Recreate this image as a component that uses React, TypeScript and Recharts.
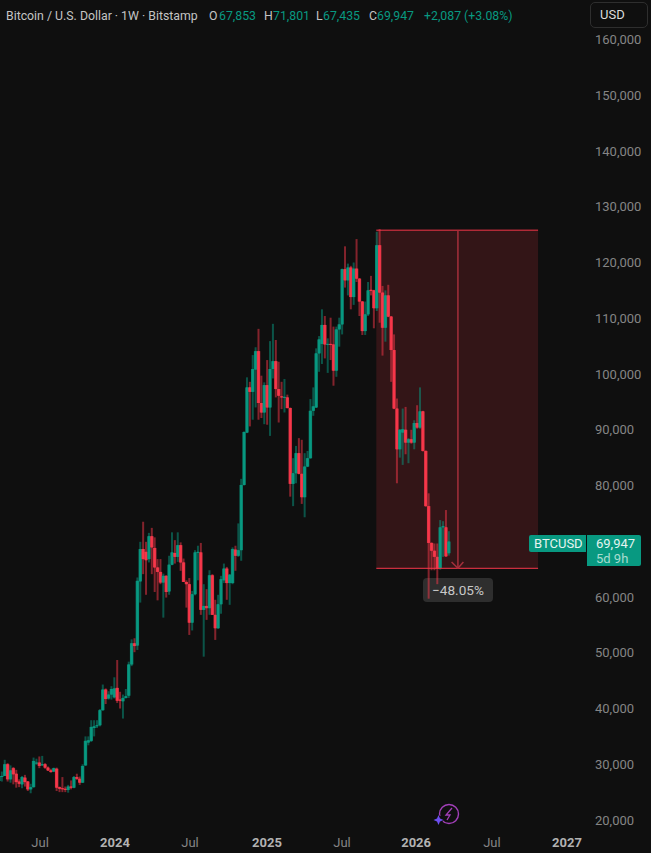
import {
  Bar,
  ComposedChart,
  ReferenceArea,
  ReferenceLine,
  XAxis,
  YAxis,
} from 'recharts';

const UP = '#089981';
const DOWN = '#f7374a';
const BG = '#0f0f0f';
const FONT = 'Roboto, "Liberation Sans", sans-serif';

// weekly candles, values in thousands of USD
const opens = [
  27.0, 27.8, 27.9, 30.0, 27.3, 29.3, 28.3, 26.9, 26.4, 27.6,
  26.9, 25.5, 25.9, 30.2, 30.3, 29.9, 30.0, 29.4, 28.9, 28.7,
  29.2, 25.9, 25.7, 25.6, 25.4, 26.0, 25.8, 27.7, 27.4, 26.7,
  29.8, 33.9, 34.2, 36.5, 36.9, 37.0, 39.7, 43.4, 41.8, 42.5,
  42.0, 43.7, 41.6, 41.3, 41.9, 42.3, 47.9, 51.7, 51.3, 62.8,
  68.6, 68.1, 66.8, 70.9, 68.8, 65.3, 64.5, 62.6, 63.8, 61.0,
  65.8, 67.9, 67.2, 69.3, 66.2, 62.7, 62.3, 55.4, 60.5, 68.0,
  68.0, 57.7, 58.4, 58.0, 63.9, 56.8, 54.4, 58.7, 63.0, 65.1,
  62.5, 62.5, 68.5, 67.4, 68.4, 80.1, 89.5, 97.6, 96.8, 100.8,
  104.1, 94.8, 93.1, 98.0, 94.0, 100.9, 102.3, 97.3, 96.0, 95.8,
  95.8, 93.9, 80.3, 82.2, 85.8, 82.1, 77.9, 83.4, 84.9, 93.4,
  94.0, 103.7, 105.4, 108.8, 105.3, 105.4, 105.3, 100.6, 108.0, 108.9,
  118.8, 116.8, 119.1, 113.8, 118.9, 117.1, 113.0, 107.7, 110.7, 115.1,
  115.0, 111.8, 123.1, 114.6, 108.3, 114.1, 110.3, 104.3, 93.8, 86.5,
  89.5, 90.0, 87.7, 88.3, 87.7, 91.2, 90.4, 93.3, 86.2, 76.3,
  69.7, 68.3, 67.2, 65.2, 72.5, 72.5, 67.853,
];
const highs = [
  28.7, 28.7, 30.8, 30.2, 29.8, 29.5, 29.0, 27.3, 27.9, 28.1,
  27.0, 26.5, 31.2, 31.0, 31.4, 31.5, 30.2, 29.6, 29.2, 29.4,
  29.4, 26.0, 27.7, 26.0, 26.3, 27.1, 27.9, 28.3, 27.8, 30.0,
  35.0, 35.0, 37.9, 37.9, 37.9, 39.9, 44.3, 43.6, 43.1, 44.0,
  45.6, 48.7, 43.0, 42.5, 43.5, 48.4, 52.4, 52.6, 63.5, 69.9,
  73.5, 69.9, 71.5, 72.4, 70.7, 66.8, 66.8, 64.2, 63.9, 67.4,
  71.6, 70.2, 71.6, 69.8, 66.9, 63.0, 63.4, 61.1, 68.4, 69.2,
  69.7, 62.3, 61.4, 64.8, 64.1, 59.5, 60.4, 63.8, 66.0, 65.4,
  64.1, 68.9, 69.2, 73.2, 81.2, 89.7, 99.4, 98.6, 103.4, 104.8,
  108.1, 99.7, 98.5, 102.5, 105.9, 109.0, 106.1, 102.2, 98.6, 99.1,
  96.3, 94.0, 84.9, 87.1, 88.5, 88.2, 85.8, 86.2, 95.5, 97.6,
  104.6, 106.8, 111.6, 110.4, 106.4, 110.1, 108.5, 108.5, 110.1, 118.9,
  122.9, 119.8, 119.4, 120.0, 124.2, 117.2, 113.1, 113.0, 116.5, 117.6,
  115.1, 125.5, 126.0, 115.8, 115.0, 116.0, 110.4, 107.1, 95.6, 90.1,
  93.8, 94.1, 88.5, 90.0, 91.7, 94.4, 97.6, 93.4, 86.3, 78.6,
  69.8, 69.6, 69.6, 73.8, 73.6, 75.6, 71.801,
];
const lows = [
  26.3, 26.9, 27.9, 26.9, 26.7, 26.4, 25.8, 25.9, 25.7, 26.0,
  25.2, 24.8, 25.8, 29.9, 29.3, 29.7, 29.2, 28.8, 28.5, 28.6,
  25.2, 25.0, 25.0, 25.0, 24.9, 25.5, 25.7, 27.2, 26.3, 26.7,
  29.7, 33.4, 34.0, 35.0, 36.5, 36.8, 39.6, 40.8, 41.6, 41.6,
  41.8, 41.0, 40.0, 38.2, 41.8, 41.9, 47.6, 50.1, 50.5, 59.0,
  64.1, 60.4, 66.2, 64.1, 60.9, 59.4, 62.3, 56.3, 59.9, 60.4,
  65.7, 66.0, 66.3, 64.7, 62.7, 58.1, 53.2, 54.0, 60.3, 63.0,
  56.8, 49.3, 55.9, 56.8, 56.8, 52.3, 54.3, 57.0, 62.5, 59.5,
  58.6, 62.3, 64.7, 67.2, 66.5, 80.0, 89.4, 90.6, 91.8, 94.0,
  91.8, 92.1, 91.0, 90.9, 88.9, 99.2, 95.8, 91.3, 93.7, 93.1,
  93.8, 78.0, 76.3, 80.4, 82.0, 76.7, 74.3, 83.3, 84.8, 92.5,
  93.9, 100.4, 101.8, 102.8, 100.2, 102.5, 97.9, 99.5, 104.9, 107.1,
  115.5, 114.1, 111.6, 112.4, 116.5, 110.4, 107.0, 107.0, 110.4, 114.1,
  108.2, 111.3, 109.2, 103.3, 105.8, 110.2, 98.6, 93.7, 80.4, 85.0,
  83.7, 85.6, 84.0, 87.5, 86.5, 90.2, 90.2, 86.1, 76.2, 59.7,
  64.8, 64.8, 62.3, 64.9, 67.2, 67.2, 67.435,
];
const closes = [
  27.9, 27.9, 30.0, 27.3, 28.9, 28.2, 26.8, 26.5, 27.7, 26.8,
  25.5, 25.9, 30.6, 30.3, 29.7, 30.0, 29.4, 28.9, 28.6, 29.3,
  25.8, 25.6, 25.6, 25.4, 26.0, 25.8, 27.7, 27.4, 26.7, 29.7,
  34.2, 34.3, 36.7, 36.8, 37.0, 39.7, 43.4, 41.7, 42.5, 43.5,
  43.6, 41.4, 41.4, 41.9, 42.2, 47.9, 51.7, 51.2, 62.9, 68.6,
  66.8, 66.6, 70.9, 68.9, 65.3, 64.5, 62.6, 63.8, 60.9, 65.8,
  68.0, 67.2, 69.3, 66.2, 62.7, 62.3, 55.4, 60.5, 68.0, 68.1,
  57.7, 58.4, 58.0, 63.9, 56.8, 54.4, 58.7, 63.2, 65.1, 62.5,
  64.0, 68.6, 67.4, 68.4, 80.1, 89.6, 97.6, 96.8, 100.9, 104.1,
  94.8, 93.1, 98.0, 94.0, 100.9, 102.3, 97.3, 96.1, 95.8, 95.9,
  93.9, 80.3, 82.2, 85.8, 82.1, 77.9, 83.4, 84.9, 93.4, 94.2,
  103.7, 106.2, 108.8, 105.3, 105.4, 105.3, 100.6, 108.0, 108.9, 118.8,
  116.8, 119.1, 113.8, 118.9, 117.1, 113.0, 107.7, 110.7, 115.0, 114.9,
  111.8, 123.1, 114.6, 108.3, 114.1, 110.3, 104.3, 93.8, 86.5, 90.0,
  90.1, 87.7, 88.3, 87.7, 91.2, 90.4, 93.3, 86.2, 76.3, 69.7,
  68.3, 67.2, 65.1, 72.5, 72.7, 67.3, 69.947,
];

// 70,000 sits behind the last price label in the reference
const priceTicks = [20, 30, 40, 50, 60, 80, 90, 100, 110, 120, 130, 140, 150, 160];
const timeTicks = [14.2, 40.2, 66.2, 92.9, 118.9, 144.6, 170.9, 196.9];
const timeLabels = ['Jul', '2024', 'Jul', '2025', 'Jul', '2026', 'Jul', '2027'];

// drawn short position box
const boxWeeks = [130.8, 186.9];
const boxPrices = [65.15, 125.8];
const arrowWeek = 159.1;
const arrowSideWeeks = [156.9, 161];
const arrowSidePrice = 66.28;

const data = opens.map((open, i) => ({
  week: i,
  open,
  high: highs[i],
  low: lows[i],
  close: closes[i],
}));

const Candle = (props: any) => {
  const { x, y, width, height, payload } = props;
  const { open, close, high, low } = payload;
  const color = close >= open ? UP : DOWN;
  const perUnit = height / (high - low);
  const top = y + (high - Math.max(open, close)) * perUnit;
  const bodyH = Math.max(1, Math.abs(open - close) * perUnit);
  const cx = x + width / 2;
  return (
    <g>
      <rect x={cx - 1} y={y} width={2} height={height} fill={color} opacity={0.5} />
      <rect x={cx - 1.7} y={top} width={3.4} height={bodyH} fill={color} opacity={0.85} />
      <rect x={cx - 0.9} y={top} width={1.8} height={bodyH} fill={color} />
    </g>
  );
};

const TimeTick = (props: any) => {
  const { x, y, payload } = props;
  const label = timeLabels[timeTicks.indexOf(payload.value)];
  const isYear = label !== 'Jul';
  return (
    <text
      x={x}
      y={y + 7}
      textAnchor="middle"
      fontFamily={FONT}
      fontSize={13}
      fontWeight={isYear ? 700 : 400}
      fill={isYear ? '#b2b2b2' : '#858585'}
    >
      {label}
    </text>
  );
};

const legendStyle = { position: 'absolute', top: 7.5, fontSize: 12.3, lineHeight: '16px', whiteSpace: 'nowrap' } as const;
const legendParts = [
  { left: 6, text: 'Bitcoin / U.S. Dollar · 1W · Bitstamp', color: '#c4c4c4' },
  { left: 209, text: 'O', color: '#c4c4c4' },
  { left: 219, text: '67,853', color: UP },
  { left: 264, text: 'H', color: '#c4c4c4' },
  { left: 273, text: '71,801', color: UP },
  { left: 316, text: 'L', color: '#c4c4c4' },
  { left: 323, text: '67,435', color: UP },
  { left: 369, text: 'C', color: '#c4c4c4' },
  { left: 377, text: '69,947', color: UP },
  { left: 424, text: '+2,087 (+3.08%)', color: UP },
];

export default function App() {
  return (
    <div
      style={{
        position: 'fixed',
        left: 0,
        top: 0,
        width: 651,
        height: 853,
        overflow: 'hidden',
        background: BG,
        fontFamily: FONT,
      }}
    >
      {/* the candles run over this badge, so it sits under the chart */}
      <div
        style={{
          position: 'absolute',
          left: 423,
          top: 578,
          width: 70,
          height: 24,
          borderRadius: 4,
          background: '#2e2e2e',
          color: '#c8c8c8',
          fontSize: 13.6,
          lineHeight: '24px',
          textAlign: 'center',
        }}
      >
        −48.05%
      </div>

      <div style={{ position: 'absolute', left: 0, top: 0 }}>
        <ComposedChart
          width={651}
          height={853}
          data={data}
          margin={{ top: 0, right: 0, bottom: 0, left: 0 }}
        >
          <XAxis
            dataKey="week"
            type="number"
            domain={[0.31, 204.9]}
            allowDataOverflow
            ticks={timeTicks}
            interval={0}
            tick={<TimeTick />}
            axisLine={false}
            tickLine={false}
            height={21}
          />
          <YAxis
            orientation="right"
            type="number"
            domain={[17.85, 167.085]}
            allowDataOverflow
            ticks={priceTicks}
            interval={0}
            tickFormatter={(v: number) => `${v},000`}
            tick={{ fill: '#858585', fontSize: 13, fontFamily: FONT, dx: -7 }}
            axisLine={false}
            tickLine={false}
            tickMargin={6}
            width={61}
          />
          <ReferenceArea
            x1={boxWeeks[0]}
            x2={boxWeeks[1]}
            y1={boxPrices[0]}
            y2={boxPrices[1]}
            fill="#f23645"
            fillOpacity={0.16}
            stroke="none"
          />
          <Bar
            dataKey={(d: any) => [d.low, d.high]}
            barSize={3}
            shape={<Candle />}
            isAnimationActive={false}
          />
          {boxPrices.map((p) => (
            <ReferenceLine
              key={p}
              segment={[
                { x: boxWeeks[0], y: p },
                { x: boxWeeks[1], y: p },
              ]}
              stroke={DOWN}
              strokeWidth={1}
            />
          ))}
          <ReferenceLine
            segment={[
              { x: arrowWeek, y: boxPrices[1] },
              { x: arrowWeek, y: boxPrices[0] },
            ]}
            stroke="#a52f3c"
            strokeWidth={1.5}
          />
          {arrowSideWeeks.map((w) => (
            <ReferenceLine
              key={w}
              segment={[
                { x: w, y: arrowSidePrice },
                { x: arrowWeek, y: boxPrices[0] },
              ]}
              stroke="#a52f3c"
              strokeWidth={1.5}
            />
          ))}
        </ComposedChart>
      </div>

      {legendParts.map((p) => (
        <span key={p.left} style={{ ...legendStyle, left: p.left, color: p.color }}>
          {p.text}
        </span>
      ))}

      <div
        style={{
          position: 'absolute',
          left: 590,
          top: 2,
          width: 58,
          height: 26,
          boxSizing: 'border-box',
          border: '1px solid #2e2e2e',
          borderRadius: 5,
          paddingLeft: 9,
          color: '#dcdcdc',
          fontSize: 13,
          lineHeight: '24px',
        }}
      >
        USD
      </div>

      <div
        style={{
          position: 'absolute',
          left: 529,
          top: 535,
          width: 57,
          height: 17,
          borderRadius: '2px 0 0 2px',
          background: '#089981',
          color: '#e4f4f0',
          fontSize: 13,
          lineHeight: '17px',
          paddingLeft: 5,
          boxSizing: 'border-box',
        }}
      >
        BTCUSD
      </div>
      <div
        style={{
          position: 'absolute',
          left: 587,
          top: 535,
          width: 54,
          height: 31,
          borderRadius: '0 2px 2px 0',
          background: '#089981',
          color: '#e4f4f0',
          fontSize: 13,
          lineHeight: '15px',
          paddingLeft: 9,
          paddingTop: 1,
          boxSizing: 'border-box',
        }}
      >
        <div>69,947</div>
        <div style={{ color: '#a8dcd0' }}>5d 9h</div>
      </div>

      {/* assistant badge near the time axis */}
      <svg style={{ position: 'absolute', left: 432, top: 802 }} width={30} height={26}>
        <circle cx={17} cy={12} r={9.5} fill="none" stroke="#a23fb8" strokeWidth={1.4} />
        <path d="M20 6 L14 13 L18 13 L15 18" fill="none" stroke="#a23fb8" strokeWidth={1.3} />
        <circle cx={6.5} cy={18} r={4.5} fill={BG} />
        <path d="M6.5 13 L8 16.5 L11.5 18 L8 19.5 L6.5 23 L5 19.5 L1.5 18 L5 16.5 Z" fill="#6d4ff0" />
      </svg>
    </div>
  );
}
